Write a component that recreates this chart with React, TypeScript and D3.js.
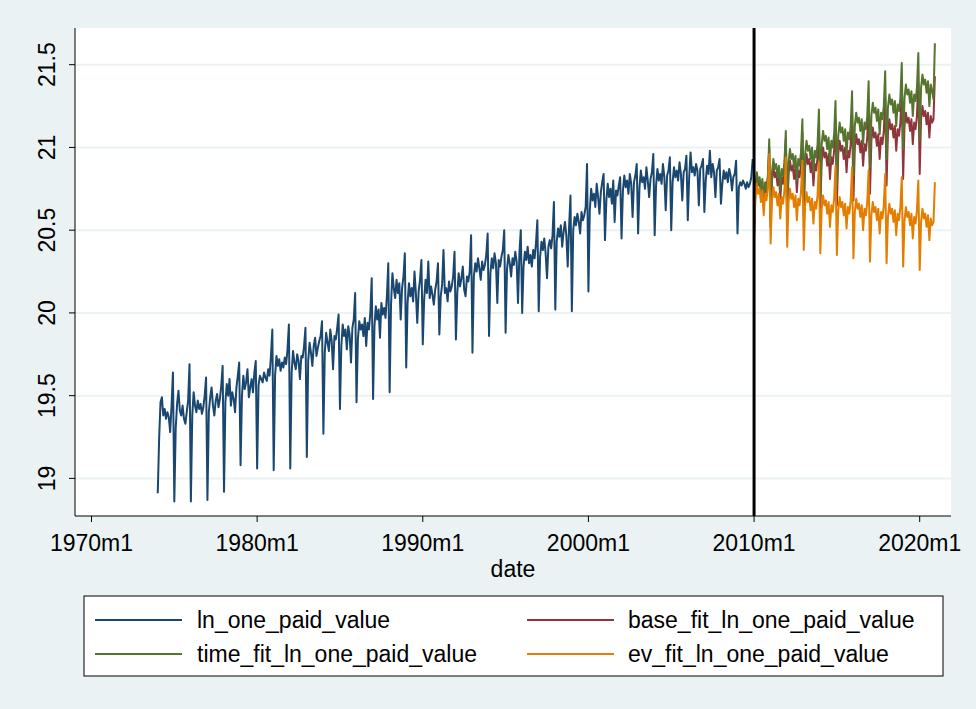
import React from "react";
import * as d3 from "d3";

// Monthly observations, 1974m1 .. 2009m12 (one row per year, Jan..Dec)
const lnOnePaidValue: number[] = [
  18.91, 19.24, 19.46, 19.49, 19.38, 19.42, 19.36, 19.40, 19.37, 19.28, 19.44, 19.64,
  18.86, 19.30, 19.45, 19.53, 19.41, 19.38, 19.44, 19.36, 19.33, 19.40, 19.47, 19.69,
  18.86, 19.38, 19.52, 19.44, 19.40, 19.47, 19.42, 19.45, 19.39, 19.43, 19.50, 19.61,
  18.87, 19.40, 19.49, 19.55, 19.44, 19.38, 19.47, 19.51, 19.43, 19.48, 19.56, 19.68,
  18.92, 19.46, 19.57, 19.50, 19.60, 19.44, 19.52, 19.48, 19.40, 19.55, 19.62, 19.70,
  19.08, 19.50, 19.62, 19.54, 19.58, 19.66, 19.49, 19.55, 19.60, 19.52, 19.64, 19.71,
  19.06, 19.56, 19.62, 19.60, 19.58, 19.64, 19.61, 19.59, 19.66, 19.62, 19.74, 19.90,
  19.05, 19.62, 19.74, 19.68, 19.72, 19.65, 19.70, 19.67, 19.73, 19.69, 19.78, 19.93,
  19.06, 19.64, 19.77, 19.70, 19.66, 19.75, 19.71, 19.60, 19.74, 19.73, 19.80, 19.91,
  19.13, 19.71, 19.82, 19.76, 19.68, 19.80, 19.85, 19.74, 19.79, 19.83, 19.86, 19.95,
  19.27, 19.76, 19.88, 19.82, 19.77, 19.90, 19.83, 19.66, 19.86, 19.84, 19.91, 19.99,
  19.42, 19.80, 19.93, 19.86, 19.90, 19.78, 19.92, 19.87, 19.70, 19.91, 19.96, 20.12,
  19.46, 19.84, 19.95, 19.90, 19.93, 19.86, 19.97, 19.80, 19.94, 19.90, 20.00, 20.21,
  19.48, 19.92, 20.04, 19.96, 20.02, 19.85, 20.06, 19.99, 20.03, 19.97, 20.10, 20.30,
  19.52, 20.05, 20.24, 20.15, 20.09, 20.20, 20.12, 20.18, 19.96, 20.15, 20.22, 20.36,
  19.67, 20.06, 20.18, 20.10, 20.15, 20.07, 20.25, 20.12, 19.94, 20.13, 20.20, 20.32,
  19.81, 20.08, 20.20, 20.12, 20.31, 20.09, 20.16, 20.11, 20.05, 20.14, 20.19, 20.30,
  19.87, 20.10, 20.17, 20.38, 20.12, 20.15, 20.07, 20.19, 20.13, 20.16, 20.22, 20.37,
  19.84, 20.12, 20.24, 20.16, 20.21, 20.28, 20.14, 20.10, 20.22, 20.19, 20.25, 20.47,
  19.76, 20.22, 20.30, 20.25, 20.33, 20.27, 20.20, 20.31, 20.26, 20.29, 20.35, 20.48,
  19.86, 20.24, 20.33, 20.27, 20.36, 20.30, 20.06, 20.32, 20.28, 20.34, 20.38, 20.50,
  19.88, 20.26, 20.35, 20.30, 20.22, 20.33, 20.29, 20.37, 20.31, 20.06, 20.36, 20.50,
  20.00, 20.28, 20.37, 20.32, 20.40, 20.30, 20.35, 20.28, 20.38, 20.33, 20.42, 20.56,
  20.01, 20.34, 20.43, 20.38, 20.45, 20.36, 20.21, 20.40, 20.44, 20.39, 20.47, 20.67,
  20.02, 20.43, 20.51, 20.46, 20.53, 20.40, 20.49, 20.55, 20.47, 20.28, 20.52, 20.71,
  20.01, 20.50, 20.58, 20.53, 20.60, 20.55, 20.48, 20.61, 20.56, 20.59, 20.64, 20.90,
  20.13, 20.62, 20.75, 20.68, 20.72, 20.64, 20.78, 20.70, 20.60, 20.73, 20.79, 20.84,
  20.44, 20.68, 20.78, 20.70, 20.75, 20.66, 20.80, 20.55, 20.74, 20.71, 20.77, 20.82,
  20.45, 20.74, 20.83, 20.76, 20.80, 20.72, 20.84, 20.78, 20.58, 20.79, 20.83, 20.90,
  20.48, 20.76, 20.86, 20.79, 20.82, 20.75, 20.88, 20.80, 20.70, 20.81, 20.85, 20.96,
  20.47, 20.77, 20.87, 20.80, 20.84, 20.78, 20.90, 20.82, 20.62, 20.83, 20.86, 20.94,
  20.50, 20.79, 20.88, 20.82, 20.86, 20.80, 20.91, 20.84, 20.68, 20.85, 20.87, 20.95,
  20.56, 20.82, 20.97, 20.85, 20.88, 20.83, 20.90, 20.86, 20.65, 20.87, 20.89, 20.93,
  20.61, 20.80, 20.89, 20.84, 20.98, 20.82, 20.90, 20.85, 20.70, 20.86, 20.88, 20.93,
  20.66, 20.78, 20.86, 20.81, 20.85, 20.79, 20.87, 20.83, 20.74, 20.82, 20.84, 20.92,
  20.48, 20.76, 20.79, 20.77, 20.80, 20.78, 20.75, 20.79, 20.76, 20.78, 20.82, 20.93,
];

// Fitted values, 2010m1 .. 2020m12
const baseFit: number[] = [
  20.47, 20.75, 20.83, 20.77, 20.80, 20.72, 20.79, 20.64, 20.77, 20.73, 20.81, 21.00,
  20.52, 20.80, 20.88, 20.82, 20.85, 20.77, 20.84, 20.69, 20.82, 20.78, 20.86, 21.05,
  20.56, 20.84, 20.92, 20.86, 20.89, 20.81, 20.88, 20.73, 20.86, 20.82, 20.90, 21.09,
  20.59, 20.88, 20.96, 20.90, 20.93, 20.85, 20.92, 20.77, 20.90, 20.86, 20.94, 21.13,
  20.62, 20.92, 21.00, 20.94, 20.97, 20.89, 20.96, 20.81, 20.94, 20.90, 20.98, 21.17,
  20.65, 20.96, 21.04, 20.98, 21.01, 20.93, 21.00, 20.85, 20.98, 20.94, 21.02, 21.21,
  20.68, 21.00, 21.08, 21.02, 21.05, 20.97, 21.04, 20.89, 21.02, 20.98, 21.06, 21.26,
  20.72, 21.04, 21.12, 21.06, 21.09, 21.01, 21.08, 20.93, 21.06, 21.02, 21.10, 21.30,
  20.77, 21.09, 21.17, 21.11, 21.14, 21.06, 21.13, 20.98, 21.11, 21.07, 21.15, 21.35,
  20.81, 21.13, 21.21, 21.15, 21.18, 21.10, 21.17, 21.02, 21.15, 21.11, 21.19, 21.39,
  20.84, 21.17, 21.25, 21.19, 21.22, 21.14, 21.21, 21.06, 21.19, 21.15, 21.17, 21.43,
];

const timeFit: number[] = [
  20.49, 20.77, 20.85, 20.79, 20.82, 20.74, 20.81, 20.66, 20.79, 20.75, 20.83, 21.05,
  20.56, 20.85, 20.93, 20.87, 20.90, 20.82, 20.89, 20.74, 20.87, 20.83, 20.91, 21.10,
  20.62, 20.91, 20.99, 20.93, 20.96, 20.88, 20.95, 20.80, 20.93, 20.89, 20.97, 21.17,
  20.67, 20.96, 21.04, 20.98, 21.01, 20.93, 21.00, 20.85, 20.98, 20.94, 21.02, 21.23,
  20.70, 21.02, 21.10, 21.04, 21.07, 20.99, 21.06, 20.91, 21.04, 21.00, 21.08, 21.28,
  20.77, 21.07, 21.15, 21.09, 21.12, 21.04, 21.11, 20.96, 21.09, 21.05, 21.13, 21.34,
  20.83, 21.13, 21.21, 21.15, 21.18, 21.10, 21.17, 21.02, 21.15, 21.11, 21.19, 21.40,
  20.88, 21.19, 21.27, 21.21, 21.24, 21.16, 21.23, 21.08, 21.21, 21.17, 21.25, 21.46,
  20.93, 21.24, 21.32, 21.26, 21.29, 21.21, 21.28, 21.13, 21.26, 21.22, 21.30, 21.51,
  20.99, 21.30, 21.38, 21.32, 21.35, 21.27, 21.34, 21.19, 21.32, 21.28, 21.36, 21.57,
  21.04, 21.36, 21.44, 21.38, 21.41, 21.33, 21.40, 21.25, 21.38, 21.34, 21.29, 21.63,
];

const evFit: number[] = [
  20.45, 20.70, 20.78, 20.72, 20.75, 20.67, 20.74, 20.59, 20.72, 20.68, 20.76, 20.96,
  20.42, 20.68, 20.76, 20.70, 20.73, 20.65, 20.72, 20.57, 20.70, 20.66, 20.74, 20.94,
  20.40, 20.67, 20.75, 20.69, 20.72, 20.64, 20.71, 20.56, 20.69, 20.65, 20.73, 20.92,
  20.38, 20.65, 20.73, 20.67, 20.70, 20.62, 20.69, 20.54, 20.67, 20.63, 20.71, 20.91,
  20.36, 20.63, 20.71, 20.65, 20.68, 20.60, 20.67, 20.52, 20.65, 20.61, 20.69, 20.89,
  20.35, 20.62, 20.70, 20.64, 20.67, 20.59, 20.66, 20.51, 20.64, 20.60, 20.68, 20.88,
  20.33, 20.61, 20.69, 20.63, 20.66, 20.58, 20.65, 20.50, 20.63, 20.59, 20.67, 20.86,
  20.31, 20.59, 20.67, 20.61, 20.64, 20.56, 20.63, 20.48, 20.61, 20.57, 20.65, 20.84,
  20.30, 20.58, 20.66, 20.60, 20.63, 20.55, 20.62, 20.47, 20.60, 20.56, 20.64, 20.82,
  20.28, 20.56, 20.64, 20.58, 20.61, 20.53, 20.60, 20.45, 20.58, 20.54, 20.62, 20.80,
  20.26, 20.55, 20.63, 20.57, 20.60, 20.52, 20.59, 20.44, 20.57, 20.53, 20.55, 20.79,
];

const observedStartYear = 1974;
const forecastStartYear = 2010;
const xTickYears = [1970, 1980, 1990, 2000, 2010, 2020];
const yTicks = [19, 19.5, 20, 20.5, 21, 21.5];
const cutoffYear = 2010;

const seriesNames = [
  "ln_one_paid_value",
  "base_fit_ln_one_paid_value",
  "time_fit_ln_one_paid_value",
  "ev_fit_ln_one_paid_value",
];
const colors = ["#1a476f", "#90353b", "#55752f", "#e37e00"];

const W = 976;
const H = 709;
const plot = { left: 75, right: 951, top: 28, bottom: 516 };
const FONT = "'Liberation Sans', Arial, sans-serif";

// month index since 1970m1
const mIdx = (year: number, month0: number) => (year - 1970) * 12 + month0;

export default function App() {
  const x = d3.scaleLinear().domain([0, 600]).range([91.5, 919.7]);
  const y = d3.scaleLinear().domain([19, 21.5]).range([478.4, 64.7]);

  const mk = (vals: number[], startYear: number) =>
    vals.map((v, i) => ({ m: mIdx(startYear, 0) + i, v }));

  const line = d3
    .line<{ m: number; v: number }>()
    .x((d) => x(d.m))
    .y((d) => y(d.v));

  const series = [
    mk(lnOnePaidValue, observedStartYear),
    mk(baseFit, forecastStartYear),
    mk(timeFit, forecastStartYear),
    mk(evFit, forecastStartYear),
  ];

  const legendPos = [
    { lx: 95, tx: 197, y: 620 },
    { lx: 527, tx: 628, y: 620 },
    { lx: 95, tx: 197, y: 654 },
    { lx: 527, tx: 628, y: 654 },
  ];

  return (
    <svg
      width={W}
      height={H}
      style={{ position: "absolute", left: 0, top: 0, display: "block" }}
      fontFamily={FONT}
    >
      <rect x={0} y={0} width={W} height={H} fill="#eaf2f3" />
      <rect
        x={plot.left}
        y={plot.top}
        width={plot.right - plot.left}
        height={plot.bottom - plot.top}
        fill="#ffffff"
      />
      {yTicks.map((t) => (
        <line
          key={"g" + t}
          x1={plot.left}
          x2={plot.right}
          y1={y(t)}
          y2={y(t)}
          stroke="#eaf2f3"
          strokeWidth={2}
        />
      ))}
      {series.map((s, i) => (
        <path
          key={"s" + i}
          d={line(s) || ""}
          fill="none"
          stroke={colors[i]}
          strokeWidth={2}
          strokeLinejoin="round"
        />
      ))}
      <line
        x1={x(mIdx(cutoffYear, 0))}
        x2={x(mIdx(cutoffYear, 0))}
        y1={plot.top}
        y2={plot.bottom}
        stroke="#000"
        strokeWidth={3}
      />
      {/* axes */}
      <line x1={plot.left} x2={plot.left} y1={plot.top} y2={plot.bottom} stroke="#000" strokeWidth={1} />
      <line x1={plot.left} x2={plot.right} y1={plot.bottom} y2={plot.bottom} stroke="#000" strokeWidth={1} />
      {yTicks.map((t) => (
        <g key={"yt" + t}>
          <line x1={plot.left - 6} x2={plot.left} y1={y(t)} y2={y(t)} stroke="#000" />
          <text
            transform={`translate(${55},${y(t)}) rotate(-90)`}
            textAnchor="middle"
            fontSize={23}
            fill="#000"
          >
            {String(t)}
          </text>
        </g>
      ))}
      {xTickYears.map((yr) => (
        <g key={"xt" + yr}>
          <line
            x1={x(mIdx(yr, 0))}
            x2={x(mIdx(yr, 0))}
            y1={plot.bottom}
            y2={plot.bottom + 6}
            stroke="#000"
          />
          <text x={x(mIdx(yr, 0))} y={551} textAnchor="middle" fontSize={23} fill="#000">
            {yr + "m1"}
          </text>
        </g>
      ))}
      <text x={513} y={577} textAnchor="middle" fontSize={23} fill="#000">
        date
      </text>
      {/* legend */}
      <rect x={84} y={596} width={859} height={80} fill="#fff" stroke="#000" strokeWidth={1} />
      {seriesNames.map((n, i) => {
        const p = legendPos[i];
        return (
          <g key={"l" + i}>
            <line x1={p.lx} x2={p.lx + 87} y1={p.y} y2={p.y} stroke={colors[i]} strokeWidth={2} />
            <text x={p.tx} y={p.y + 8} fontSize={23} fill="#000">
              {n}
            </text>
          </g>
        );
      })}
    </svg>
  );
}
